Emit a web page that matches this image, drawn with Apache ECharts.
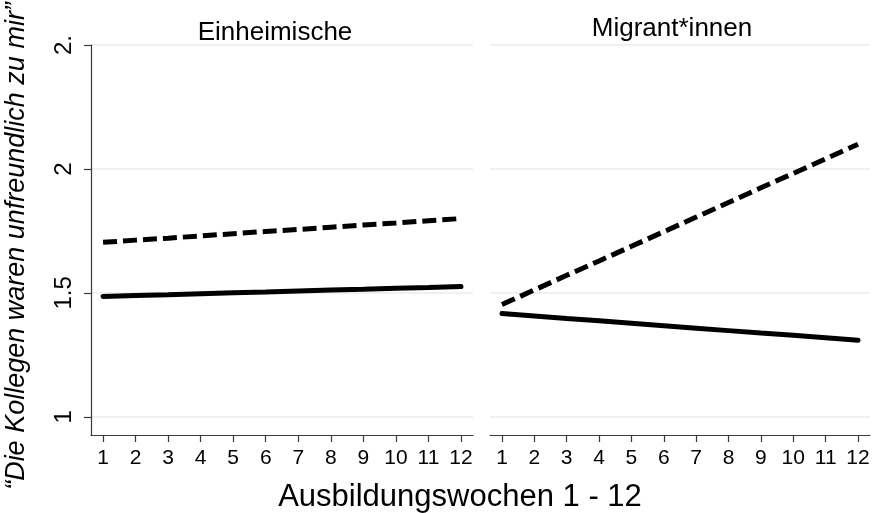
<!DOCTYPE html>
<html><head><meta charset="utf-8">
<script src="https://cdn.jsdelivr.net/npm/echarts@6/dist/echarts.min.js"></script>
<style>html,body{margin:0;padding:0;background:#fff}#c{width:874px;height:513px}</style>
</head><body><div id="c"></div>
<script>
const weeks = [1,2,3,4,5,6,7,8,9,10,11,12];
const panelTitles = ['Einheimische', 'Migrant*innen'];
const einheimischeSolid  = [1.486,1.490,1.493,1.497,1.501,1.504,1.508,1.512,1.515,1.519,1.522,1.526];
const einheimischeDashed = [1.704,1.713,1.721,1.730,1.739,1.748,1.756,1.765,1.774,1.782,1.791,1.800];
const migrantSolid  = [1.417,1.407,1.397,1.388,1.378,1.368,1.358,1.348,1.338,1.329,1.319,1.309];
const migrantDashed = [1.453,1.512,1.571,1.629,1.688,1.747,1.806,1.865,1.924,1.982,2.041,2.100];
const yTicks = [1, 1.5, 2, 2.5];
const yTickLabels = ['1', '1.5', '2', '2.'];
const xTitle = 'Ausbildungswochen 1 - 12';
const yTitle = '\u201CDie Kollegen waren unfreundlich zu mir\u201D';

const FONT = '"Liberation Sans", Arial, Helvetica, sans-serif';
const chart = echarts.init(document.getElementById('c'), null, {renderer: 'canvas'});

const gridLine = {show: true, lineStyle: {color: '#ebebeb', width: 1.5}};
function xAxisFor(gi) {
  return {
    type: 'value', gridIndex: gi, min: 0.63, max: 12.37,
    axisLine: {show: true, onZero: false, lineStyle: {color: '#3a3a3a', width: 1.2}},
    axisTick: {show: true, length: 7, customValues: weeks, lineStyle: {color: '#3a3a3a', width: 1.2}},
    axisLabel: {show: true, customValues: weeks, margin: 13, fontSize: 21, color: '#000', fontFamily: FONT},
    splitLine: {show: false}
  };
}
function yAxisFor(gi, showAxis) {
  return {
    type: 'value', gridIndex: gi, min: 0.927, max: 2.5,
    axisLine: {show: showAxis, lineStyle: {color: '#3a3a3a', width: 1.2}},
    axisTick: {show: showAxis, length: 7, customValues: yTicks, lineStyle: {color: '#3a3a3a', width: 1.2}},
    axisLabel: {
      show: showAxis, customValues: yTicks, rotate: 90, margin: 15, fontSize: 24, color: '#000', fontFamily: FONT,
      formatter: function (v) { const i = yTicks.indexOf(v); return i >= 0 ? yTickLabels[i] : ''; }
    },
    splitLine: gridLine
  };
}
function lineSeries(gi, data, dashed) {
  return {
    type: 'line', xAxisIndex: gi, yAxisIndex: gi,
    data: weeks.map((w, i) => [w, data[i]]),
    symbol: 'none', silent: true, animation: false,
    lineStyle: {color: '#000', width: 5, type: dashed ? [14, 6] : 'solid', cap: dashed ? 'butt' : 'round'}
  };
}

chart.setOption({
  backgroundColor: '#fff',
  animation: false,
  grid: [
    {left: 91, top: 45, width: 382, height: 390},
    {left: 490, top: 45, width: 380, height: 390}
  ],
  xAxis: [xAxisFor(0), xAxisFor(1)],
  yAxis: [yAxisFor(0, true), yAxisFor(1, false)],
  series: [
    lineSeries(0, einheimischeDashed, true),
    lineSeries(0, einheimischeSolid, false),
    lineSeries(1, migrantDashed, true),
    lineSeries(1, migrantSolid, false)
  ],
  graphic: [
    {type: 'text', x: 275, y: 33, style: {text: panelTitles[0], fontSize: 26, fontFamily: FONT, fill: '#000', align: 'center', verticalAlign: 'middle'}},
    {type: 'text', x: 672, y: 29, style: {text: panelTitles[1], fontSize: 26, fontFamily: FONT, fill: '#000', align: 'center', verticalAlign: 'middle'}},
    {type: 'text', x: 460, y: 497, style: {text: xTitle, fontSize: 31, fontFamily: FONT, fill: '#000', align: 'center', verticalAlign: 'middle'}},
    {type: 'text', x: 16, y: 246, rotation: Math.PI / 2, style: {text: yTitle, fontSize: 27, fontStyle: 'italic', fontFamily: FONT, fill: '#000', align: 'center', verticalAlign: 'middle'}}
  ]
});
</script></body></html>
